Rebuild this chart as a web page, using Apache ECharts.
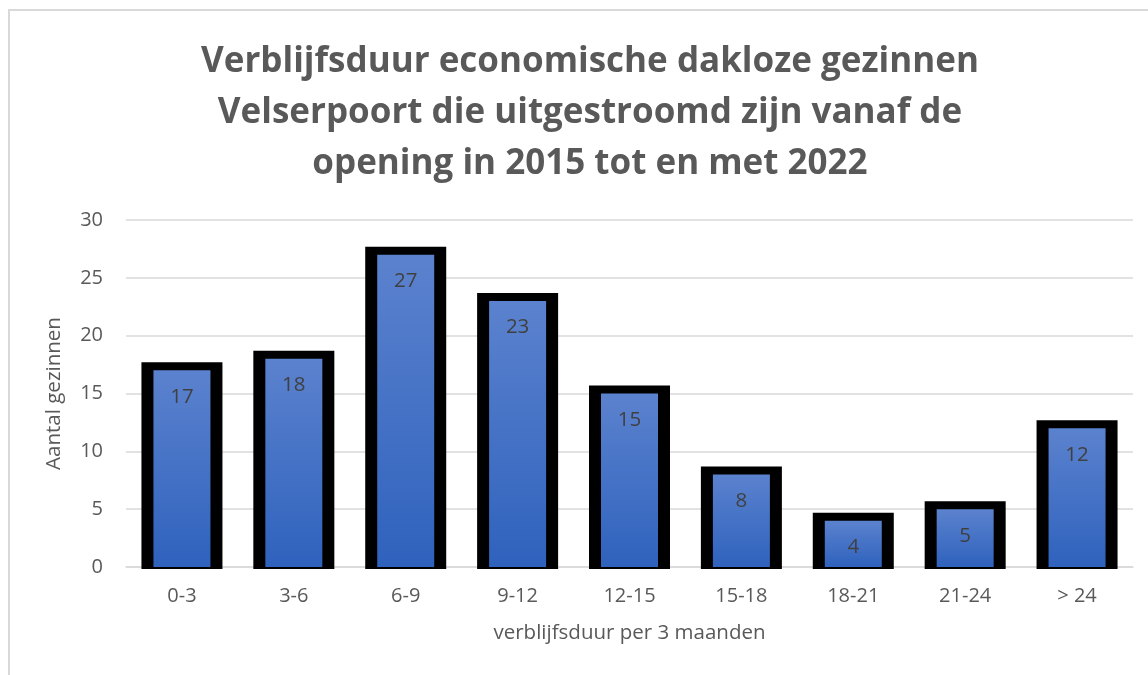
<!DOCTYPE html>
<html>
<head>
<meta charset="utf-8">
<script src="https://cdn.jsdelivr.net/npm/echarts@6/dist/echarts.min.js"></script>
<style>
  html, body { margin: 0; padding: 0; background: #fff; }
  #chart { width: 1148px; height: 675px; }
</style>
</head>
<body>
<div id="chart"></div>
<script>
// data
const categories = ['0-3', '3-6', '6-9', '9-12', '12-15', '15-18', '18-21', '21-24', '> 24'];
const values = [17, 18, 27, 23, 15, 8, 4, 5, 12];
const yTicks = [0, 5, 10, 15, 20, 25, 30];

const titleText = 'Verblijfsduur economische dakloze gezinnen\nVelserpoort die uitgestroomd zijn vanaf de\nopening in 2015 tot en met 2022';
const font = '"Open Sans", sans-serif';
const grey = '#595959';

const chart = echarts.init(document.getElementById('chart'));
const option = {
    animation: false,
    backgroundColor: '#fff',
    title: {
        text: titleText,
        left: 585,
        top: 32,
        textAlign: 'center',
        textStyle: {
            fontFamily: font,
            fontWeight: 'bold',
            fontSize: 35,
            lineHeight: 51,
            color: grey
        }
    },
    graphic: [{
        type: 'rect',
        shape: { x: 9, y: 10, width: 1300, height: 800 },
        style: { fill: 'none', stroke: '#d9d9d9', lineWidth: 2 },
        silent: true
    }],
    grid: {
        left: 126,
        right: 15,
        top: 220,
        bottom: 108
    },
    xAxis: {
        type: 'category',
        data: categories,
        name: 'verblijfsduur per 3 maanden',
        nameLocation: 'middle',
        nameGap: 56,
        nameTextStyle: { fontFamily: font, fontSize: 20.5, color: grey },
        axisLine: { lineStyle: { color: '#d9d9d9', width: 1.5 } },
        axisTick: { show: false },
        axisLabel: { fontFamily: font, fontSize: 20, color: grey, margin: 19 }
    },
    yAxis: {
        type: 'value',
        min: yTicks[0],
        max: yTicks[yTicks.length - 1],
        interval: 5,
        name: 'Aantal gezinnen',
        nameLocation: 'middle',
        nameGap: 61,
        nameTextStyle: { fontFamily: font, fontSize: 20.5, color: grey },
        axisLine: { show: false },
        axisTick: { show: false },
        axisLabel: { fontFamily: font, fontSize: 20, color: grey, margin: 23 },
        splitLine: { lineStyle: { color: '#d9d9d9', width: 1.5 } }
    },
    series: [
        {
            // thick black frame drawn behind each bar
            type: 'custom',
            data: values.map((v, i) => [i, v]),
            silent: true,
            z: 1,
            renderItem: function (params, api) {
                const top = api.coord([api.value(0), api.value(1)]);
                const base = api.coord([api.value(0), 0]);
                return {
                    type: 'rect',
                    shape: { x: top[0] - 40.5, y: top[1] - 8, width: 81, height: base[1] - top[1] + 10 },
                    style: { fill: '#000' }
                };
            }
        },
        {
            type: 'bar',
            data: values,
            barWidth: 57,
            z: 2,
            itemStyle: {
                color: new echarts.graphic.LinearGradient(0, 0, 0, 1, [
                    { offset: 0, color: '#5b82ce' },
                    { offset: 1, color: '#2f62bd' }
                ])
            },
            label: {
                show: true,
                position: 'insideTop',
                distance: 16,
                fontFamily: font,
                fontSize: 20.5,
                color: '#404040'
            }
        }
    ]
};
chart.setOption(option);

window.addEventListener('resize', function () {
    chart.resize();
});
</script>
</body>
</html>
